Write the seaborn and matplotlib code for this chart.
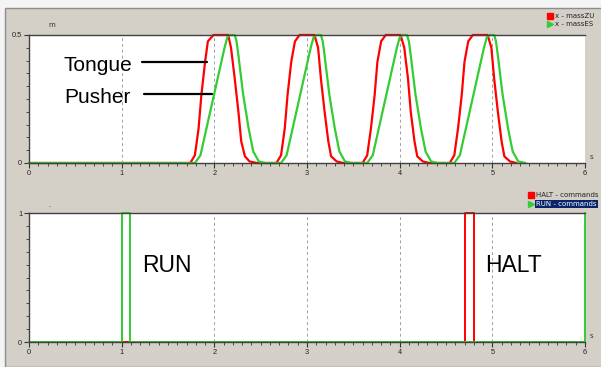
import matplotlib
matplotlib.use("Agg")
import matplotlib.pyplot as plt
from matplotlib.lines import Line2D
from matplotlib.patches import Rectangle
from matplotlib.ticker import MultipleLocator
import pandas as pd
import seaborn as sns

# Upper chart: positions of the two masses (m) over time (s)
tongue_t = [0.0,
            1.74, 1.79, 1.83, 1.86, 1.90, 1.93, 1.99, 2.15, 2.18, 2.22, 2.26, 2.29, 2.33, 2.38, 2.46,
            2.67, 2.72, 2.76, 2.79, 2.83, 2.87, 2.92, 3.08, 3.12, 3.15, 3.19, 3.23, 3.26, 3.32, 3.39,
            3.60, 3.65, 3.69, 3.73, 3.76, 3.80, 3.85, 4.01, 4.05, 4.09, 4.12, 4.16, 4.19, 4.25, 4.32,
            4.54, 4.59, 4.63, 4.67, 4.70, 4.74, 4.79, 4.95, 4.99, 5.02, 5.06, 5.10, 5.13, 5.19, 5.26]
tongue_x = [0.0,
            0, .03, .135, .265, .395, .475, .5, .5, .45, .33, .2, .085, .026, .006, 0,
            0, .03, .135, .265, .395, .475, .5, .5, .45, .33, .2, .085, .026, .006, 0,
            0, .03, .135, .265, .395, .475, .5, .5, .45, .33, .2, .085, .026, .006, 0,
            0, .03, .135, .265, .395, .475, .5, .5, .45, .33, .2, .085, .026, .006, 0]

pusher_t = [0.0,
            1.79, 1.85, 2.11, 2.14, 2.17, 2.22, 2.24, 2.26, 2.31, 2.37, 2.42, 2.48, 2.55,
            2.72, 2.78, 3.04, 3.07, 3.10, 3.15, 3.17, 3.19, 3.24, 3.30, 3.35, 3.41, 3.48,
            3.65, 3.71, 3.97, 4.00, 4.03, 4.08, 4.10, 4.12, 4.17, 4.23, 4.28, 4.34, 4.41,
            4.59, 4.65, 4.91, 4.94, 4.97, 5.02, 5.04, 5.06, 5.11, 5.17, 5.22, 5.28, 5.36]
pusher_x = [0.0,
            0, .03, .45, .49, .5, .5, .475, .42, .27, .135, .045, .006, 0,
            0, .03, .45, .49, .5, .5, .475, .42, .27, .135, .045, .006, 0,
            0, .03, .45, .49, .5, .5, .475, .42, .27, .135, .045, .006, 0,
            0, .03, .45, .49, .5, .5, .475, .42, .27, .135, .045, .006, 0]

# Lower chart: command signals
halt_t = [0.0, 4.70, 4.70, 4.80, 4.80, 6.0]
halt_v = [0, 0, 1, 1, 0, 0]
run_t = [0.0, 1.0, 1.0, 1.09, 1.09, 6.0, 6.0]
run_v = [0, 0, 1, 1, 0, 0, 1]

RED = "#ff0000"
GREEN = "#33cc33"
BG = "#d4d0c8"

sns.set_style("white")
plt.rcParams["font.family"] = ["Liberation Sans", "DejaVu Sans"]
plt.rcParams["text.color"] = "black"

fig = plt.figure(figsize=(6.01, 3.67), dpi=100)
fig.patch.set_facecolor("#f4f4f4")
fig.add_artist(Rectangle((5 / 601, 0), 1, 1 - 8 / 367, transform=fig.transFigure,
                         facecolor=BG, edgecolor="#8c8c8c", lw=1.0, zorder=0))

ax1 = fig.add_axes([0.0483, 0.5559, 0.925, 0.3488])
ax2 = fig.add_axes([0.0483, 0.0681, 0.925, 0.3515])

upper = pd.DataFrame({"t": tongue_t, "x": tongue_x})
upper2 = pd.DataFrame({"t": pusher_t, "x": pusher_x})
lower_h = pd.DataFrame({"t": halt_t, "v": halt_v})
lower_r = pd.DataFrame({"t": run_t, "v": run_v})

sns.lineplot(data=upper, x="t", y="x", ax=ax1, color=RED, lw=1.6,
             estimator=None, sort=False, zorder=3)
sns.lineplot(data=upper2, x="t", y="x", ax=ax1, color=GREEN, lw=1.6,
             estimator=None, sort=False, zorder=4)
sns.lineplot(data=lower_h, x="t", y="v", ax=ax2, color=RED, lw=1.4,
             estimator=None, sort=False, zorder=3)
sns.lineplot(data=lower_r, x="t", y="v", ax=ax2, color=GREEN, lw=1.4,
             estimator=None, sort=False, zorder=4)

for ax, top, ystep in [(ax1, 0.5, 0.05), (ax2, 1.0, 0.1)]:
    ax.set_xlim(0, 6)
    ax.set_ylim(0, top)
    ax.set_xlabel("")
    ax.set_ylabel("")
    ax.set_facecolor("white")
    ax.set_xticks(range(7))
    ax.set_yticks([0, top])
    ax.set_yticklabels(["0", "0.5" if top == 0.5 else "1"])
    ax.xaxis.set_minor_locator(MultipleLocator(0.1))
    ax.yaxis.set_minor_locator(MultipleLocator(ystep))
    ax.tick_params(which="both", direction="out", labelsize=5.3, colors="#333333",
                   labelcolor="#222222", pad=1.5, bottom=True, left=True)
    ax.tick_params(which="major", length=3.5, width=0.8)
    ax.tick_params(which="minor", length=2.2, width=0.6)
    for x in range(1, 6):
        ax.axvline(x, color="#a0a0a0", ls=(0, (3, 3)), lw=0.7, zorder=1)
    for side in ["top", "left", "bottom"]:
        ax.spines[side].set_color("#404040")
        ax.spines[side].set_linewidth(1.0)
        ax.spines[side].set_zorder(5)
    ax.spines["right"].set_visible(False)
    for line in ax.lines:
        line.set_clip_on(False)
    ax.text(6.05, 0.0 + top * 0.02, "s", fontsize=5, color="#333333",
            va="bottom", ha="left", family=["DejaVu Sans"])

ax1.text(0.035, 1.06, "m", transform=ax1.transAxes, fontsize=5, color="#333333",
         family=["DejaVu Sans"])
ax2.text(0.035, 1.04, "-", transform=ax2.transAxes, fontsize=4, color="#333333",
         family=["DejaVu Sans"])

# annotations
ax1.text(0.37, 0.36, "Tongue", fontsize=15, va="baseline", ha="left", color="black")
ax1.plot([1.216, 1.918], [0.396, 0.396], color="black", lw=1.6, zorder=6)
ax1.text(0.385, 0.235, "Pusher", fontsize=15, va="baseline", ha="left", color="black")
ax1.plot([1.241, 1.978], [0.27, 0.27], color="black", lw=1.6, zorder=6)
ax2.text(1.22, 0.54, "RUN", fontsize=16.5, va="baseline", ha="left", color="black")
ax2.text(4.92, 0.54, "HALT", fontsize=16.5, va="baseline", ha="left", color="black")

# legends
def legend_entry(x, y, marker, color, label, highlight=False):
    fig.add_artist(Line2D([x / 601], [1 - y / 367], marker=marker, color=color,
                          markersize=4.5, ls="none", transform=fig.transFigure))
    kw = dict(color="#222222")
    if highlight:
        kw = dict(color="white",
                  bbox=dict(facecolor="#0a246a", edgecolor="none", pad=0.8))
    fig.text((x + 5) / 601, 1 - y / 367, label, fontsize=5, va="center",
             ha="left", family=["DejaVu Sans"], **kw)

legend_entry(550, 16, "s", RED, "x - massZU")
legend_entry(550, 24, ">", GREEN, "x - massES")
legend_entry(531, 195, "s", RED, "HALT - commands")
legend_entry(531, 204, ">", GREEN, "RUN - commands", highlight=True)

fig.savefig("out.png", dpi=100, facecolor=fig.get_facecolor())
